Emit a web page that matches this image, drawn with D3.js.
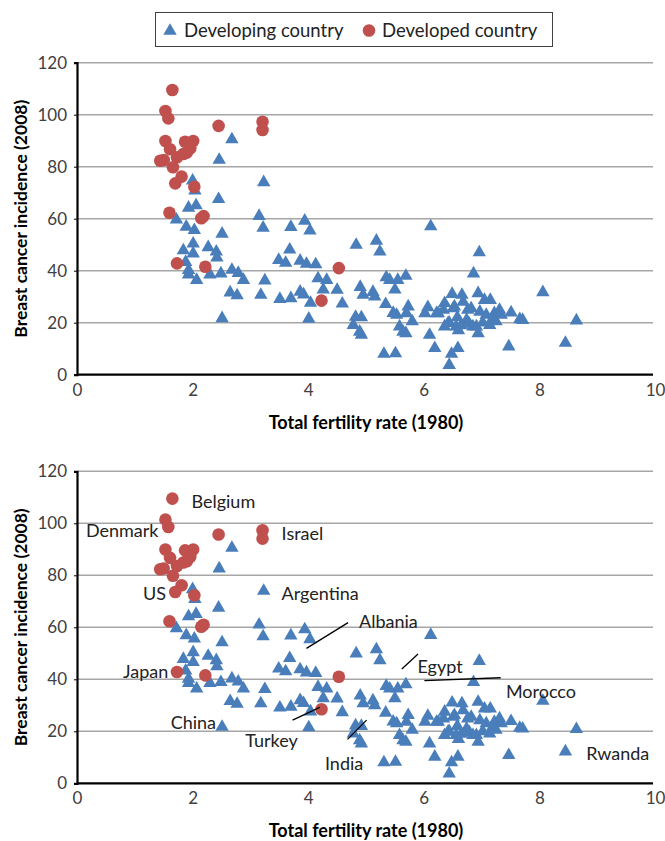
<!DOCTYPE html>
<html>
<head>
<meta charset="utf-8">
<script src="https://cdn.jsdelivr.net/npm/d3@7"></script>
<style>
  body { margin: 0; background: #fff; }
  svg { font-family: Lato, "Open Sans", sans-serif; }
</style>
</head>
<body>
<script>
// data: [total fertility rate 1980, breast cancer incidence 2008]
var developing = [
  [2.68,90.5],[2.46,82.6],[3.23,74.0],[2.00,74.6],[2.04,70.8],[2.45,67.5],[1.93,64.2],[2.06,65.1],
  [3.15,61.0],[1.72,59.6],[1.89,56.9],[2.03,55.6],[3.22,56.5],[3.70,56.8],[3.94,59.2],[4.03,55.4],
  [2.51,54.2],[1.84,47.8],[2.01,50.4],[2.01,46.6],[2.27,49.0],[2.41,47.3],[2.42,45.0],[3.68,48.1],
  [3.49,44.1],[3.61,43.0],[3.86,43.8],[3.97,42.6],[4.13,42.4],[1.88,43.3],[1.93,40.2],[1.93,38.5],
  [2.07,36.4],[2.30,38.5],[2.49,38.9],[2.68,40.3],[2.79,39.1],[2.88,36.4],[3.25,36.2],[2.65,31.6],
  [2.77,30.5],[3.18,30.7],[3.51,29.1],[3.70,29.4],[3.86,31.9],[3.92,30.8],[4.04,27.6],[4.17,37.0],
  [4.32,36.4],[4.26,32.7],[4.50,32.6],[4.59,27.3],[2.51,21.7],[4.01,21.5],[4.83,49.9],[5.18,51.5],
  [5.24,47.3],[6.12,57.0],[6.96,47.0],[6.86,38.9],[4.90,33.7],[4.95,30.7],[5.12,31.8],[5.15,30.0],
  [5.35,37.4],[5.41,36.4],[5.55,36.4],[5.69,38.0],[5.50,32.7],[5.34,27.1],[5.47,23.7],[5.53,23.0],
  [5.73,26.2],[5.70,23.6],[5.80,20.5],[5.58,18.5],[5.64,16.5],[5.69,15.9],[4.78,19.1],[4.82,22.2],
  [4.92,22.0],[4.89,16.5],[4.92,15.3],[5.31,8.0],[5.51,8.2],[6.02,23.6],[6.07,25.9],[6.10,15.3],
  [6.19,10.2],[6.36,27.5],[6.25,23.6],[6.49,31.0],[6.51,25.5],[6.36,18.5],[6.44,20.0],[6.59,10.2],
  [6.48,8.0],[6.44,3.7],[6.66,30.7],[6.68,28.0],[6.76,24.9],[6.65,19.0],[6.79,19.5],[6.91,18.5],
  [6.94,15.9],[6.94,31.3],[7.05,28.7],[7.15,28.7],[6.97,24.2],[7.08,23.0],[7.22,23.6],[7.31,24.9],
  [7.34,23.0],[7.51,23.9],[7.66,21.3],[7.71,21.0],[7.14,19.1],[7.19,21.7],[7.47,10.8],[8.06,31.7],
  [8.64,20.8],[8.45,12.2],[6.56,18.5],[6.53,26.2],[6.82,25.5],[6.74,21.0],[6.85,18.5],[6.22,23.6],
  [6.34,24.9],[6.42,19.8],[6.58,22.0],[6.60,17.0],[7.02,20.0],[7.25,20.5]
];

var developed = [
  [1.65,109.5],[1.53,101.4],[1.58,98.6],[2.45,95.7],[3.21,97.3],[3.21,94.1],[1.53,89.9],[1.61,86.7],
  [1.87,89.6],[2.01,89.9],[1.96,87.1],[1.90,85.4],[1.73,83.6],[1.44,82.3],[1.50,82.6],[1.84,84.9],
  [1.66,79.8],[1.81,76.2],[1.70,73.6],[2.03,72.3],[1.60,62.3],[2.19,61.0],[2.15,60.2],[1.73,42.8],
  [2.22,41.5],[4.53,41.0],[4.23,28.5]
];

// country names for the lower panel: [name, fertility, incidence, anchor]
var countryLabels = [
  ["Belgium", 1.98, 108.7, "start"],
  ["Denmark", 1.41, 97.4, "end"],
  ["Israel", 3.54, 96.4, "start"],
  ["US", 1.54, 73.3, "end"],
  ["Argentina", 3.54, 73.3, "start"],
  ["Albania", 4.88, 62.5, "start"],
  ["Egypt", 5.89, 45.2, "start"],
  ["Morocco", 7.42, 35.6, "start"],
  ["Japan", 1.58, 43.3, "end"],
  ["China", 1.62, 23.7, "start"],
  ["Turkey", 2.91, 16.7, "start"],
  ["India", 4.29, 7.9, "start"],
  ["Rwanda", 8.81, 11.5, "start"]
];

// leader lines: [x1, y1, x2, y2] in data units
var leaderLines = [
  [4.69, 61.8, 3.97, 51.9],
  [5.62, 44.0, 5.90, 49.7],
  [6.01, 39.5, 7.33, 40.6],
  [3.73, 24.3, 4.20, 29.2],
  [4.68, 16.9, 5.01, 24.3]
];

var xTicks = [0, 2, 4, 6, 8, 10];
var yTicks = [0, 20, 40, 60, 80, 100, 120];
var legendNames = ["Developing country", "Developed country"];

var BLUE = "#4a7ebb", RED = "#c0504d";
var W = 665, H = 841;

var svg = d3.select("body").append("svg")
  .attr("width", W)
  .attr("height", H);

var x = d3.scaleLinear().domain([0, 10]).range([77, 655]);

var tri = d3.symbol().type(d3.symbolTriangle).size(78);

function drawPanel(yBottom, withLabels) {
  var y = d3.scaleLinear().domain([0, 120]).range([yBottom, yBottom - 312]);
  var g = svg.append("g");

  // gridlines
  g.selectAll(".grid")
    .data(yTicks.filter(function(d) { return d > 0; }))
    .enter().append("line")
      .attr("x1", x(0)).attr("x2", x(10) - 2)
      .attr("y1", function(d) { return y(d); })
      .attr("y2", function(d) { return y(d); })
      .attr("stroke", "#a6a6a6")
      .attr("stroke-width", 1.5);

  // y axis
  var yAxis = g.append("g")
    .attr("transform", "translate(" + x(0) + ",0)")
    .call(d3.axisLeft(y).tickValues(yTicks).tickSize(3).tickPadding(7));
  // x axis
  var xAxis = g.append("g")
    .attr("transform", "translate(0," + yBottom + ")")
    .call(d3.axisBottom(x).tickValues(xTicks).tickSize(0).tickPadding(9));

  [yAxis, xAxis].forEach(function(a) {
    a.select(".domain").attr("stroke", "#000").attr("stroke-width", 2.2);
    a.selectAll(".tick line").attr("stroke", "#000");
    a.selectAll("text")
      .attr("fill", "#404040")
      .style("font-size", "17px")
      .style("font-family", "Lato, sans-serif");
  });
  xAxis.select(".domain").attr("d", "M" + x(0) + ",0H" + (x(10) - 2));

  // titles
  g.append("text")
    .attr("transform", "translate(20," + (yBottom - 156) + ") rotate(-90)")
    .attr("text-anchor", "middle")
    .attr("dominant-baseline", "central")
    .style("font-size", "17.5px")
    .style("font-weight", "bold")
    .text("Breast cancer incidence (2008)");
  g.append("text")
    .attr("x", 366)
    .attr("y", yBottom + 47)
    .attr("text-anchor", "middle")
    .attr("dominant-baseline", "central")
    .style("font-size", "18px")
    .style("font-weight", "bold")
    .text("Total fertility rate (1980)");

  // points
  g.selectAll(".dev")
    .data(developing)
    .enter().append("path")
      .attr("d", tri)
      .attr("transform", function(d) { return "translate(" + x(d[0]) + "," + y(d[1]) + ")"; })
      .attr("fill", BLUE);

  g.selectAll(".rich")
    .data(developed)
    .enter().append("circle")
      .attr("cx", function(d) { return x(d[0]); })
      .attr("cy", function(d) { return y(d[1]); })
      .attr("r", 6.3)
      .attr("fill", RED);

  if (withLabels) {
    g.selectAll(".leader")
      .data(leaderLines)
      .enter().append("line")
        .attr("x1", function(d) { return x(d[0]); })
        .attr("y1", function(d) { return y(d[1]); })
        .attr("x2", function(d) { return x(d[2]); })
        .attr("y2", function(d) { return y(d[3]); })
        .attr("stroke", "#000")
        .attr("stroke-width", 1.3);

    g.selectAll(".lbl")
      .data(countryLabels)
      .enter().append("text")
        .attr("x", function(d) { return x(d[1]); })
        .attr("y", function(d) { return y(d[2]); })
        .attr("text-anchor", function(d) { return d[3]; })
        .attr("dominant-baseline", "central")
        .attr("fill", "#222")
        .style("font-size", "18px")
        .text(function(d) { return d[0]; });
  }
}

drawPanel(374.7, false);
drawPanel(783.3, true);

// legend
var legend = svg.append("g");
legend.append("rect")
  .attr("x", 155.5).attr("y", 12.5)
  .attr("width", 397).attr("height", 34)
  .attr("fill", "#fff")
  .attr("stroke", "#404040")
  .attr("stroke-width", 1);
legend.append("path")
  .attr("d", tri)
  .attr("transform", "translate(170,31)")
  .attr("fill", BLUE);
legend.append("circle")
  .attr("cx", 369).attr("cy", 30.5).attr("r", 6.3)
  .attr("fill", RED);
legend.selectAll(".ltxt")
  .data(legendNames)
  .enter().append("text")
    .attr("x", function(d, i) { return i === 0 ? 184 : 382; })
    .attr("y", 30)
    .attr("dominant-baseline", "central")
    .attr("fill", "#222")
    .style("font-size", "18.5px")
    .text(function(d) { return d; });
</script>
</body>
</html>
